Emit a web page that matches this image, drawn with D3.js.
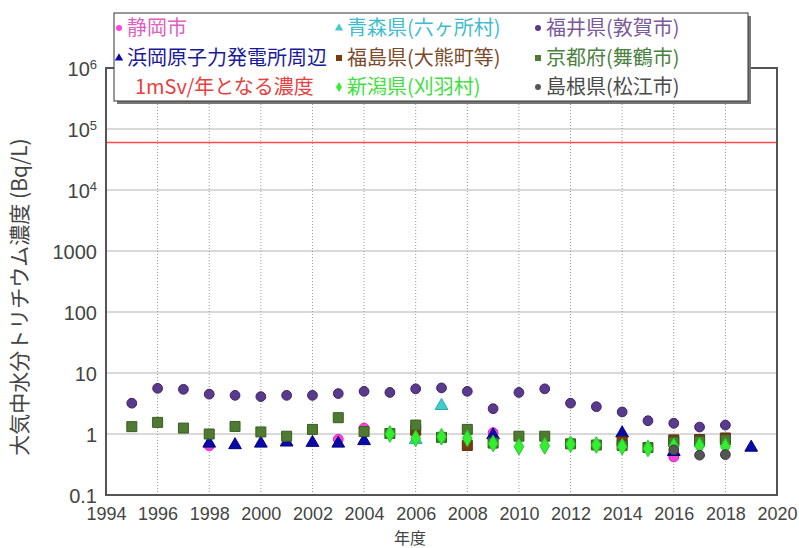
<!DOCTYPE html>
<html>
<head>
<meta charset="utf-8">
<script src="https://cdn.jsdelivr.net/npm/d3@7"></script>
<style>
  body { margin: 0; background: #fff; }
  svg { display: block; font-family: "Noto Sans CJK JP", "Liberation Sans", sans-serif; }
</style>
</head>
<body>
<svg id="chart" width="799" height="548"></svg>
<script>
// ----------------------------------------------------------------------------------------------------------------------
// DATA -----------------------------------------------------------------------------------------------------------------
// ----------------------------------------------------------------------------------------------------------------------

// Year ticks on the x axis and decade ticks on the y axis
var yearTicks = [1994, 1996, 1998, 2000, 2002, 2004, 2006, 2008, 2010, 2012, 2014, 2016, 2018, 2020];
var yTicks = [0.1, 1, 10, 100, 1000, 1e4, 1e5, 1e6];

// Dose limit line (1mSv / year)
var limitValue = 6e4;

// Each series: [year, Bq/L]
var shizuoka = [[1998, 0.64], [2003, 0.82], [2004, 1.25], [2009, 1.05], [2016, 0.42]];
var hamaoka = [[1998, 0.70], [1999, 0.66], [2000, 0.70], [2001, 0.73], [2002, 0.72], [2003, 0.70], [2004, 0.77],
               [2009, 0.96], [2014, 1.03], [2016, 0.51], [2019, 0.60]];
var aomori = [[2006, 0.80], [2007, 2.9]];
var fukushima = [[2006, 1.15], [2008, 0.65], [2014, 0.75], [2016, 0.80], [2017, 0.81], [2018, 0.86]];
var fukui = [[1995, 3.2], [1996, 5.6], [1997, 5.4], [1998, 4.5], [1999, 4.3], [2000, 4.1], [2001, 4.3], [2002, 4.3],
             [2003, 4.6], [2004, 5.0], [2005, 4.8], [2006, 5.5], [2007, 5.7], [2008, 5.0], [2009, 2.6], [2010, 4.8],
             [2011, 5.5], [2012, 3.2], [2013, 2.8], [2014, 2.3], [2015, 1.65], [2016, 1.5], [2017, 1.3], [2018, 1.4]];
var kyoto = [[1995, 1.32], [1996, 1.55], [1997, 1.25], [1998, 1.0], [1999, 1.33], [2000, 1.08], [2001, 0.92],
             [2002, 1.19], [2003, 1.85], [2004, 1.1], [2005, 1.02], [2006, 1.4], [2007, 0.88], [2008, 1.19],
             [2009, 0.71], [2010, 0.92], [2011, 0.92], [2012, 0.69], [2013, 0.66], [2014, 0.65], [2015, 0.60],
             [2016, 0.74], [2017, 0.76], [2018, 0.80]];
var niigata = [[2005, 1.0], [2006, 0.85], [2007, 0.9], [2008, 0.85], [2009, 0.70], [2010, 0.62], [2011, 0.64],
               [2012, 0.68], [2013, 0.66], [2014, 0.62], [2015, 0.58], [2016, 0.63], [2017, 0.64], [2018, 0.62]];
var shimane = [[2016, 0.55], [2017, 0.45], [2018, 0.46]];

// Series styles (drawing order = list order)
var series = [
  { label: "静岡市", data: shizuoka, shape: "circle", fill: "#ff44dd", stroke: "#dd22bb", text: "#e060c0" },
  { label: "浜岡原子力発電所周辺", data: hamaoka, shape: "triangle", fill: "#0a0aa8", stroke: "#000080", text: "#1a1a9a" },
  { label: "青森県(六ヶ所村)", data: aomori, shape: "triangle", fill: "#44cccc", stroke: "#22aaaa", text: "#40bcd0" },
  { label: "福島県(大熊町等)", data: fukushima, shape: "square", fill: "#7a3a10", stroke: "#5a2a08", text: "#7a4a2a" },
  { label: "福井県(敦賀市)", data: fukui, shape: "circle", fill: "#5a3a8c", stroke: "#3e2468", text: "#7a5a9a" },
  { label: "京都府(舞鶴市)", data: kyoto, shape: "square", fill: "#4e7a32", stroke: "#3a5c22", text: "#4a8040" },
  { label: "新潟県(刈羽村)", data: niigata, shape: "diamond", fill: "#33ee33", stroke: "#22cc22", text: "#3ee03e" },
  { label: "島根県(松江市)", data: shimane, shape: "circle", fill: "#555555", stroke: "#3a3a3a", text: "#4a4a4a" }
];

// ----------------------------------------------------------------------------------------------------------------------
// CHART ----------------------------------------------------------------------------------------------------------------
// ----------------------------------------------------------------------------------------------------------------------

var svg = d3.select("#chart");

// Plot area
var plotLeft = 106, plotRight = 777, plotTop = 68, plotBottom = 495;

var x = d3.scaleLinear().domain([1994, 2020]).range([plotLeft, plotRight]);
var y = d3.scaleLog().domain([0.1, 1e6]).range([plotBottom, plotTop]);

// Horizontal grid lines (solid)
svg.append("g")
  .selectAll("line")
  .data(yTicks.slice(1, -1))
  .enter().append("line")
    .attr("x1", plotLeft).attr("x2", plotRight)
    .attr("y1", function(d) { return y(d); })
    .attr("y2", function(d) { return y(d); })
    .attr("stroke", "#b4b4b4")
    .attr("stroke-width", 1.2);

// Vertical grid lines (dotted)
svg.append("g")
  .selectAll("line")
  .data(yearTicks.slice(1, -1))
  .enter().append("line")
    .attr("x1", function(d) { return x(d); })
    .attr("x2", function(d) { return x(d); })
    .attr("y1", plotTop).attr("y2", plotBottom)
    .attr("stroke", "#999")
    .attr("stroke-width", 1)
    .attr("stroke-dasharray", "1,2");

// 1mSv/year line
svg.append("line")
  .attr("x1", plotLeft).attr("x2", plotRight)
  .attr("y1", y(limitValue)).attr("y2", y(limitValue))
  .attr("stroke", "#ff4a4a")
  .attr("stroke-width", 1.5);

// Frame
svg.append("rect")
  .attr("x", plotLeft).attr("y", plotTop)
  .attr("width", plotRight - plotLeft).attr("height", plotBottom - plotTop)
  .attr("fill", "none")
  .attr("stroke", "#555")
  .attr("stroke-width", 2);

// Marker symbols
var symbolFor = {
  circle: d3.symbol().type(d3.symbolCircle).size(75),
  square: d3.symbol().type(d3.symbolSquare).size(100),
  triangle: d3.symbol().type(d3.symbolTriangle).size(70),
  diamond: d3.symbol().type(d3.symbolDiamond).size(80)
};

series.forEach(function(s) {
  svg.append("g")
    .selectAll("path")
    .data(s.data)
    .enter().append("path")
      .attr("d", symbolFor[s.shape])
      .attr("transform", function(d) { return "translate(" + x(d[0]) + "," + y(d[1]) + ")"; })
      .attr("fill", s.fill)
      .attr("stroke", s.stroke)
      .attr("stroke-width", 1);
});

// Y axis labels
var yAxis = svg.append("g")
  .attr("transform", "translate(" + (plotLeft - 9) + ",0)")
  .call(d3.axisLeft(y).tickValues(yTicks).tickSize(0).tickPadding(0).tickFormat(""));
yAxis.select(".domain").remove();
yAxis.selectAll(".tick text")
  .attr("fill", "#444")
  .style("font-family", "'Liberation Sans', sans-serif")
  .style("font-size", "20px")
  .attr("dy", "0.36em")
  .each(function(d) {
    var t = d3.select(this);
    if (d >= 1e4) {
      t.append("tspan").text("10");
      t.append("tspan").attr("dy", "-0.55em").style("font-size", "13px").text(Math.round(Math.log10(d)));
    } else {
      t.text(d < 1 ? "0.1" : d3.format("d")(d));
    }
  });

// X axis labels (narrow digits like the original)
var xAxis = svg.append("g")
  .attr("transform", "translate(0," + (plotBottom + 8) + ")")
  .call(d3.axisBottom(x).tickValues(yearTicks).tickSize(0).tickFormat(d3.format("d")));
xAxis.select(".domain").remove();
xAxis.selectAll(".tick text")
  .attr("fill", "#444")
  .style("font-family", "'Liberation Sans', sans-serif")
  .style("font-size", "19px")
  .attr("textLength", 40)
  .attr("lengthAdjust", "spacingAndGlyphs");

// Axis titles
svg.append("text")
  .attr("transform", "translate(27,297) rotate(-90)")
  .attr("text-anchor", "middle")
  .attr("fill", "#444")
  .style("font-size", "21px")
  .text("大気中水分トリチウム濃度 (Bq/L)");

svg.append("text")
  .attr("x", 410).attr("y", 544)
  .attr("text-anchor", "middle")
  .attr("fill", "#444")
  .style("font-size", "16px")
  .text("年度");

// ----------------------------------------------------------------------------------------------------------------------
// LEGEND ---------------------------------------------------------------------------------------------------------------
// ----------------------------------------------------------------------------------------------------------------------

svg.append("rect")
  .attr("x", 117).attr("y", 16).attr("width", 634).attr("height", 88)
  .attr("fill", "#777");
svg.append("rect")
  .attr("x", 114).attr("y", 13).attr("width", 634).attr("height", 88)
  .attr("fill", "#fff")
  .attr("stroke", "#333")
  .attr("stroke-width", 1);

// Legend grid: columns go across, rows go down
var legendItems = [
  { s: series[0], col: 0, row: 0 }, { s: series[2], col: 1, row: 0 }, { s: series[4], col: 2, row: 0 },
  { s: series[1], col: 0, row: 1 }, { s: series[3], col: 1, row: 1 }, { s: series[5], col: 2, row: 1 },
  { s: null, col: 0, row: 2 }, { s: series[6], col: 1, row: 2 }, { s: series[7], col: 2, row: 2 }
];
var colX = [119, 339, 538], rowY = [28, 58, 87];

var legendSymbol = {
  circle: d3.symbol().type(d3.symbolCircle).size(28),
  square: d3.symbol().type(d3.symbolSquare).size(36),
  triangle: d3.symbol().type(d3.symbolTriangle).size(30),
  diamond: d3.symbol().type(d3.symbolDiamond).size(30)
};

legendItems.forEach(function(it) {
  var lx = colX[it.col], ly = rowY[it.row];
  if (it.s === null) {
    svg.append("text")
      .attr("x", 135).attr("y", ly).attr("dy", "0.35em")
      .attr("fill", "#e84040")
      .style("font-size", "20px")
      .text("1mSv/年となる濃度");
    return;
  }
  svg.append("path")
    .attr("d", legendSymbol[it.s.shape])
    .attr("transform", "translate(" + lx + "," + ly + ")")
    .attr("fill", it.s.fill);
  svg.append("text")
    .attr("x", lx + 8).attr("y", ly).attr("dy", "0.35em")
    .attr("fill", it.s.text)
    .style("font-size", "20px")
    .text(it.s.label);
});
</script>
</body>
</html>
